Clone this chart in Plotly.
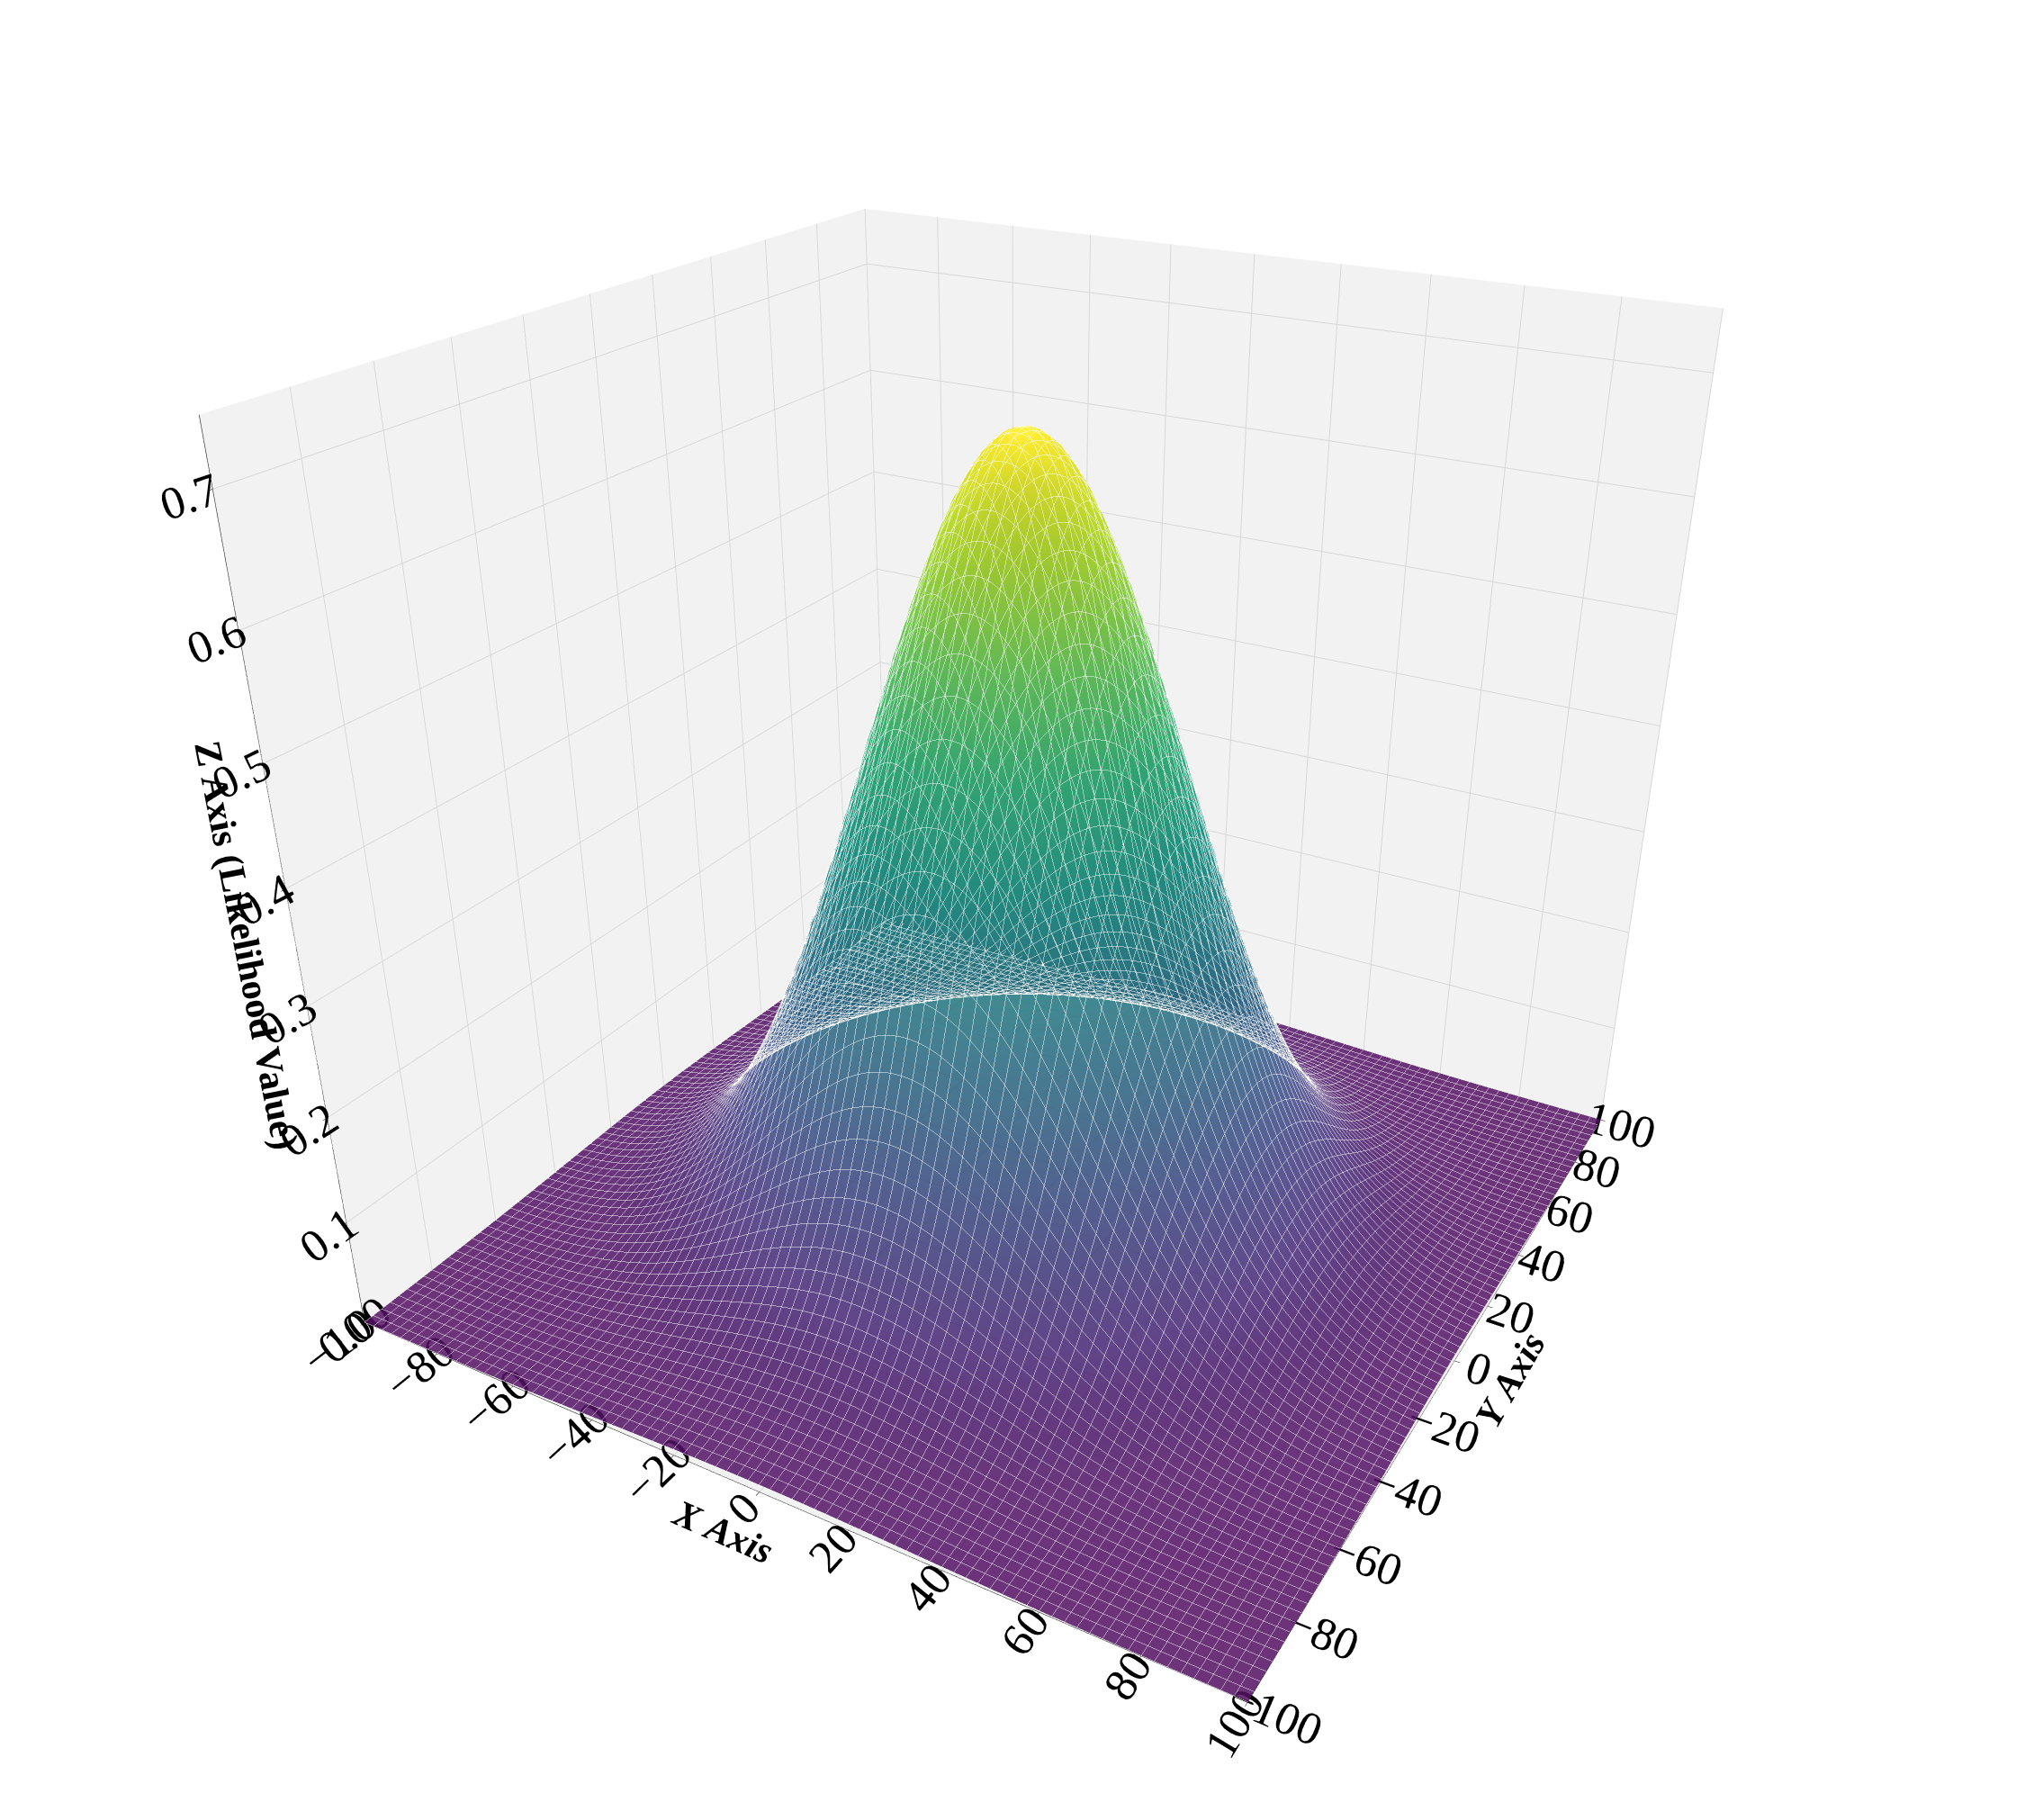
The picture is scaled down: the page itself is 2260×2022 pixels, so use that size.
import numpy as np
import plotly.graph_objects as go

# Values: Gaussian likelihood surface
peak_value = 0.7
center_x = 0.0
center_y = 0.0
spread_x = 33.0
spread_y = 33.0
x_vals = np.linspace(-100, 100, 81)
y_vals = np.linspace(-100, 100, 81)

X, Y = np.meshgrid(x_vals, y_vals)
Z = peak_value * np.exp(-(((X - center_x) / spread_x) ** 2 + ((Y - center_y) / spread_y) ** 2) / 2)

fig = go.Figure(go.Surface(
    x=x_vals, y=y_vals, z=Z, colorscale="Viridis", opacity=0.85, showscale=False,
    contours=dict(x=dict(show=True, color="rgba(255,255,255,0.3)", width=1,
                         start=-100, end=100, size=2.5),
                  y=dict(show=True, color="rgba(255,255,255,0.3)", width=1,
                         start=-100, end=100, size=2.5)),
    lighting=dict(ambient=0.9, diffuse=0.3, specular=0.05),
))

axis_common = dict(
    showbackground=True, backgroundcolor="rgb(242,242,242)",
    gridcolor="rgb(215,215,215)", showline=True, linecolor="black",
    ticks="outside", tickcolor="black",
    tickfont=dict(family="Liberation Serif", size=25, color="black"),
    zeroline=False,
)
title_font = dict(family="Liberation Serif", size=42, color="black")
fig.update_layout(
    width=2260, height=2022,
    paper_bgcolor="white",
    font=dict(family="Liberation Serif", color="black"),
    margin=dict(l=0, r=0, t=0, b=0),
    scene=dict(
        xaxis=dict(axis_common, range=[-100, 100], dtick=20,
                   title=dict(text="<b><i>X Axis</i></b>", font=title_font)),
        yaxis=dict(axis_common, range=[-100, 100], dtick=20,
                   title=dict(text="<b><i>Y Axis</i></b>", font=title_font)),
        zaxis=dict(axis_common, range=[0, 0.75], dtick=0.1, tickformat=".1f",
                   title=dict(text="<b>Z Axis (Likelihood Value)</b>", font=title_font)),
        aspectmode="manual", aspectratio=dict(x=1, y=1, z=0.95),
        camera=dict(eye=dict(x=0.98, y=-1.72, z=0.98), center=dict(x=0, y=0, z=-0.1),
                    projection=dict(type="perspective")),
    ),
)
fig.write_html("out.html")
